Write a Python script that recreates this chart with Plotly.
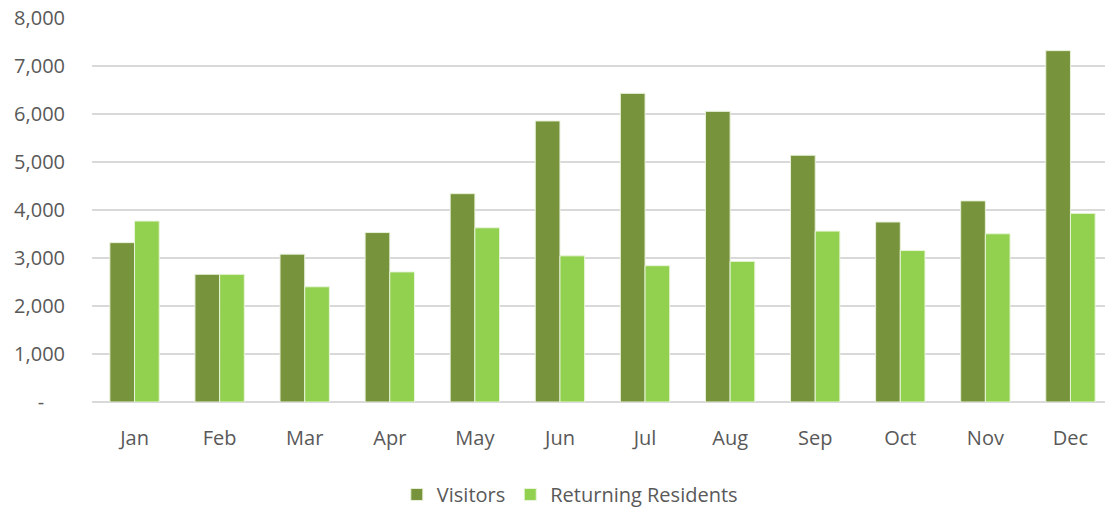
import plotly.graph_objects as go

months = ["Jan", "Feb", "Mar", "Apr", "May", "Jun", "Jul", "Aug", "Sep", "Oct", "Nov", "Dec"]
visitors = [3320, 2660, 3080, 3530, 4340, 5855, 6430, 6055, 5140, 3750, 4190, 7320]
returning = [3770, 2660, 2400, 2710, 3630, 3045, 2840, 2930, 3560, 3155, 3505, 3930]
tick_vals = [0, 1000, 2000, 3000, 4000, 5000, 6000, 7000, 8000]
tick_text = ["-\u00a0\u00a0\u00a0\u00a0", "1,000", "2,000", "3,000", "4,000", "5,000", "6,000", "7,000", "8,000"]

fig = go.Figure()
fig.add_trace(go.Bar(name="Visitors", x=months, y=visitors,
                     marker=dict(color="#77933C", line=dict(color="#E8F0D8", width=1))))
fig.add_trace(go.Bar(name="Returning Residents", x=months, y=returning,
                     marker=dict(color="#92D050", line=dict(color="#E8F5D8", width=1))))

fig.update_layout(
    width=1113, height=514,
    margin=dict(l=92, r=0, t=18, b=108),
    paper_bgcolor="white", plot_bgcolor="white",
    barmode="group", bargap=0.42, bargroupgap=0,
    font=dict(family="Open Sans", size=20, color="#595959"),
    showlegend=True,
    legend=dict(orientation="h", x=0.468, xanchor="center", y=-0.19, yanchor="top",
                font=dict(size=20, color="#595959"), itemwidth=30,
                traceorder="normal"),
)
fig.update_xaxes(showgrid=False, showline=False, ticks="", automargin=False,
                 ticklabelstandoff=22, tickfont=dict(size=20, color="#595959"))
fig.update_yaxes(range=[0, 8000], tickvals=tick_vals, ticktext=tick_text, automargin=False,
                 showgrid=True, gridcolor="#D9D9D9", gridwidth=2,
                 zeroline=True, zerolinecolor="#D9D9D9", zerolinewidth=2,
                 showline=False, ticks="", ticklabelstandoff=26,
                 ticklabeloverflow="allow",
                 tickfont=dict(size=20, color="#595959"))

fig.write_html("out.html",
               config={"displayModeBar": False},
               post_script="document.body.style.margin='0';document.body.style.overflow='hidden';")
